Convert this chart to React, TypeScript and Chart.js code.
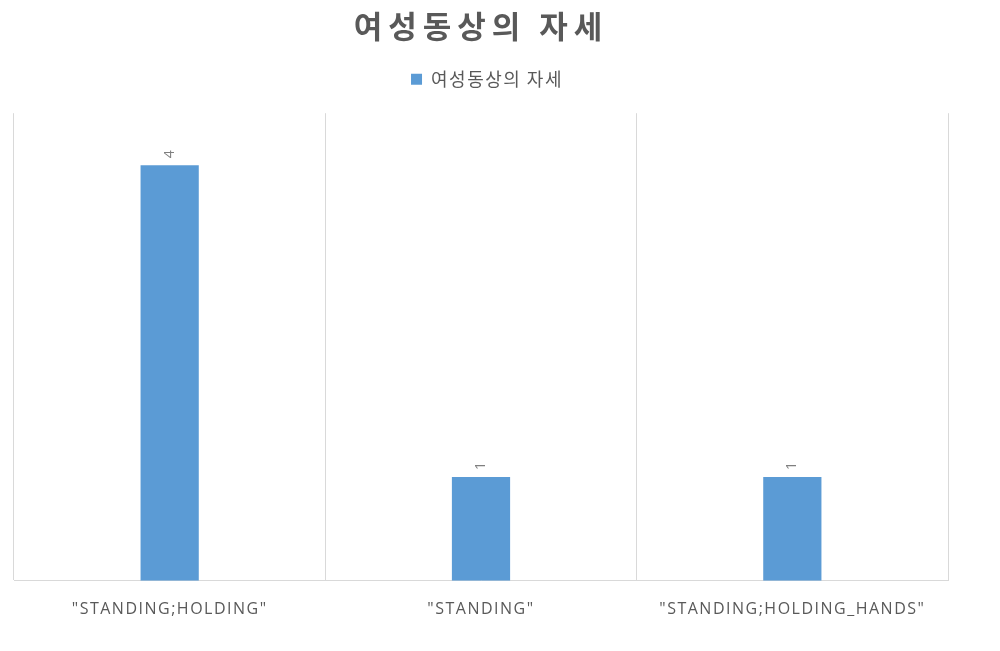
import { useEffect, useRef } from 'react';
import { Chart, registerables } from 'chart.js';

Chart.register(...registerables);

const chartTitle = '여성동상의 자세';
const seriesName = '여성동상의 자세';
const categories = ['"STANDING;HOLDING"', '"STANDING"', '"STANDING;HOLDING_HANDS"'];
const counts = [4, 1, 1];

const textColor = '#595959';
const barColor = '#5b9bd5';
const gridColor = '#d9d9d9';

// draws value labels rotated above each bar
const barValueLabels = {
  id: 'barValueLabels',
  afterDatasetsDraw(chart: any) {
    const ctx = chart.ctx;
    const meta = chart.getDatasetMeta(0);
    ctx.save();
    ctx.fillStyle = '#7f7f7f';
    ctx.font = '14px "Open Sans", sans-serif';
    ctx.textAlign = 'left';
    ctx.textBaseline = 'middle';
    meta.data.forEach((bar: any, i: number) => {
      ctx.save();
      ctx.translate(bar.x, bar.y - 7);
      ctx.rotate(-Math.PI / 2);
      ctx.fillText(String(counts[i]), 0, 0);
      ctx.restore();
    });
    ctx.restore();
  },
};

// canvas letter spacing for title, legend and category labels,
// plus extra room under the legend
const spacedText = {
  id: 'spacedText',
  beforeLayout(chart: any) {
    const legend = chart.legend;
    if (legend && !legend._extraGap) {
      const fit = legend.fit.bind(legend);
      legend.fit = () => {
        fit();
        legend.height += 15;
      };
      legend._extraGap = true;
    }
  },
  afterLayout(chart: any) {
    const wrap = (obj: any, key: string, spacing: string) => {
      if (!obj || obj['_sp_' + key]) return;
      const orig = obj[key].bind(obj);
      obj[key] = (...args: any[]) => {
        const ctx = chart.ctx;
        ctx.save();
        ctx.letterSpacing = spacing;
        orig(...args);
        ctx.restore();
      };
      obj['_sp_' + key] = true;
    };
    wrap(chart.titleBlock, 'draw', '6px');
    wrap(chart.legend, 'draw', '1.5px');
    wrap(chart.scales.x, 'drawLabels', '1.5px');
  },
};

const App = () => {
  const canvasRef = useRef<HTMLCanvasElement | null>(null);
  const chartInstance = useRef<Chart | null>(null);

  useEffect(() => {
    document.body.style.margin = '0';
    if (!canvasRef.current) return;
    const ctx = canvasRef.current.getContext('2d');
    if (!ctx) return;

    if (chartInstance.current) {
      chartInstance.current.destroy();
    }

    chartInstance.current = new Chart(ctx, {
      type: 'bar',
      data: {
        labels: categories,
        datasets: [
          {
            label: seriesName,
            data: counts,
            backgroundColor: barColor,
            barPercentage: 1,
            categoryPercentage: 0.187,
          },
        ],
      },
      options: {
        responsive: true,
        maintainAspectRatio: false,
        animation: false,
        layout: {
          padding: { left: 14, right: 52, top: 4, bottom: 13 },
        },
        plugins: {
          title: {
            display: true,
            text: chartTitle,
            color: textColor,
            font: { family: '"Noto Sans CJK KR", sans-serif', size: 31, weight: 'bold' },
            padding: { top: 4, bottom: -5 },
          },
          legend: {
            display: true,
            position: 'top',
            labels: {
              color: textColor,
              font: { family: '"Noto Sans CJK KR", sans-serif', size: 18 },
              boxWidth: 11,
              boxHeight: 11,
              padding: 30,
            },
          },
          tooltip: { enabled: false },
        },
        scales: {
          x: {
            grid: {
              display: true,
              color: gridColor,
              offset: true,
              drawTicks: false,
            },
            border: { display: true, color: gridColor },
            ticks: {
              color: textColor,
              font: { family: '"Open Sans", sans-serif', size: 16 },
              padding: 19,
              maxRotation: 0,
            },
          },
          y: {
            display: false,
            min: 0,
            max: 4.5,
          },
        },
      },
      plugins: [barValueLabels, spacedText],
    });

    return () => {
      if (chartInstance.current) {
        chartInstance.current.destroy();
        chartInstance.current = null;
      }
    };
  }, []);

  return (
    <div style={{ width: '1000px', height: '651px', position: 'relative', background: '#fff' }}>
      <canvas ref={canvasRef}></canvas>
    </div>
  );
};

export default App;
